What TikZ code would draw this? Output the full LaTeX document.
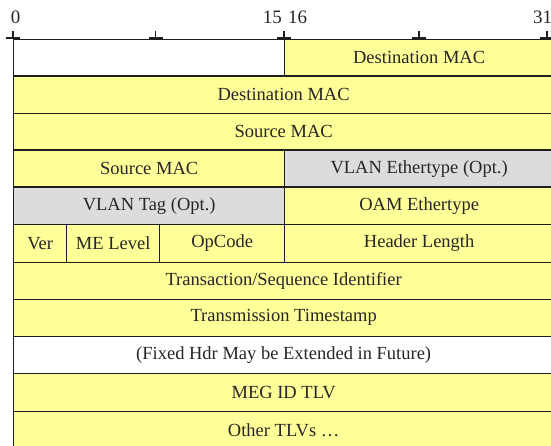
\documentclass[tikz,border=0pt]{standalone}
\usepackage{fontspec}
\setmainfont{Liberation Serif}
\definecolor{fieldyellow}{HTML}{FFFF99}
\definecolor{optgrey}{HTML}{DCDCDC}
\definecolor{rulecol}{HTML}{1E1E1E}
\definecolor{txt}{HTML}{262626}
% \cell{name}{x1}{y1}{x2}{y2}{extra style}{text}
\newcommand\cell[7]{%
  \pgfmathsetmacro\cw{#4-#2}\pgfmathsetmacro\ch{#5-#3}%
  \node[field,#6,minimum width=\cw pt,minimum height=\ch pt] (#1) at (#2,#3) {#7};}
\begin{document}
\begin{tikzpicture}[x=1pt,y=-1pt,
  field/.style={draw=rulecol,line width=1.3pt,fill=fieldyellow,anchor=north west,
    inner sep=0pt,font=\fontsize{18.5}{20}\selectfont,text=txt},
  opt/.style={fill=optgrey},
  blank/.style={fill=white},
  bitnum/.style={inner sep=0pt,font=\fontsize{19}{20}\selectfont,text=txt},
  tickmark/.style={draw=rulecol,line width=1.3pt}]
\useasboundingbox (0,0) rectangle (551,446);
% header rows
\cell{r0a}{13}{39}{284}{75.5}{blank}{}
\cell{r0b}{284}{39}{553}{75.5}{}{Destination MAC}
\cell{r1}{13}{75.5}{553}{113}{}{Destination MAC}
\cell{r2}{13}{113}{553}{149.5}{}{Source MAC}
\cell{r3a}{13}{149.5}{284}{186.5}{}{Source MAC}
\cell{r3b}{284}{149.5}{553}{186.5}{opt}{VLAN Ethertype (Opt.)}
\cell{r4a}{13}{186.5}{284}{223.8}{opt}{VLAN Tag (Opt.)}
\cell{r4b}{284}{186.5}{553}{223.8}{}{OAM Ethertype}
\cell{ver}{13}{223.8}{66}{261.5}{}{Ver}
\cell{mel}{66}{223.8}{159}{261.5}{}{ME Level}
\cell{opc}{159}{223.8}{284}{261.5}{}{OpCode}
\cell{hlen}{284}{223.8}{553}{261.5}{}{Header Length}
\cell{r6}{13}{261.5}{553}{298.5}{}{Transaction/Sequence Identifier}
\cell{r7}{13}{298.5}{553}{335.5}{}{Transmission Timestamp}
\cell{r8}{13}{335.5}{553}{372.7}{blank}{(Fixed Hdr May be Extended in Future)}
\cell{r9}{13}{372.7}{553}{410.7}{}{MEG ID TLV}
\cell{r10}{13}{410.7}{553}{449}{}{Other TLVs …}
% bit ruler ticks
\foreach \tx in {13,155.5,284,419,547}{
  \draw[tickmark] (\tx,31) -- (\tx,39);
  \draw[tickmark,line width=2pt] (\tx-7,38) -- (\tx+7,38);
}
\node[bitnum,anchor=base] (b0) at (15.5,24) {0};
\node[bitnum,anchor=base east] (b15) at (282,24) {15};
\node[bitnum,anchor=base west] (b16) at (288,24) {16};
\node[bitnum,anchor=base west] (b31) at (533,24) {31};
\end{tikzpicture}
\end{document}
